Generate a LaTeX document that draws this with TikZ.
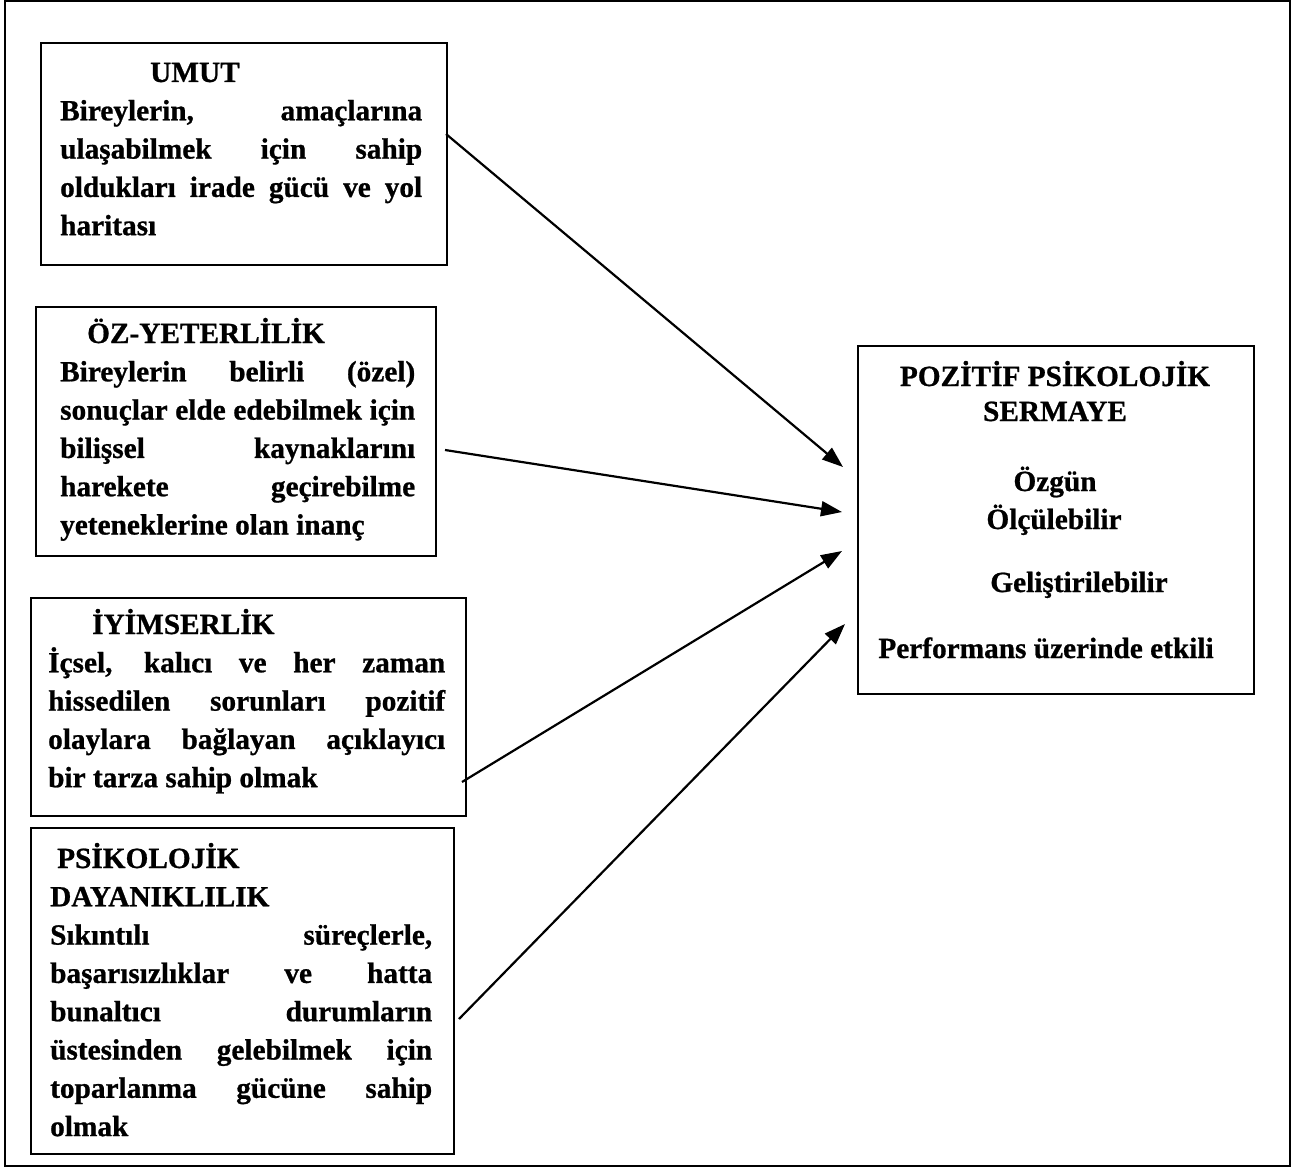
\documentclass[tikz,border=0pt]{standalone}
\usepackage{fontspec}
\setmainfont{Liberation Serif}[BoldFeatures={FakeBold=0.8}]
\usetikzlibrary{arrows.meta}
\newcommand\boxfont{\fontsize{29.3pt}{38.3pt}\selectfont\bfseries}
\begin{document}
\begin{tikzpicture}[x=1pt,y=-1pt,
  frame/.style={draw, line width=1.6pt},
  box/.style={draw, line width=2pt, inner sep=0pt, anchor=north west},
  txt/.style={inner sep=0pt, anchor=base west, font=\boxfont},
  rtxt/.style={inner sep=0pt, anchor=base, font=\boxfont},
  link/.style={-{Triangle[length=21pt,width=15pt]}, line width=2.2pt}]
\useasboundingbox (0,0) rectangle (1303,1169);
\draw[frame] (5,1) rectangle (1290,1166);

% boxes
\node[box, minimum width=406pt, minimum height=222pt] (b1) at (40,42) {};
\node[box, minimum width=400pt, minimum height=249pt] (b2) at (35,306) {};
\node[box, minimum width=435pt, minimum height=218pt] (b3) at (30,597) {};
\node[box, minimum width=423pt, minimum height=326pt] (b4) at (30,827) {};
\node[box, minimum width=396pt, minimum height=348pt] (r) at (857,345) {};

% texts of the left boxes
\node[txt] (t1) at (60,82) {\parbox[t]{362pt}{\sloppy
  \hspace*{90pt}UMUT\par
  Bireylerin, amaçlarına\linebreak
  ulaşabilmek için sahip\linebreak
  oldukları irade gücü ve yol\linebreak
  haritası}};
\node[txt] (t2) at (60,343) {\parbox[t]{355pt}{\sloppy
  \hspace*{27pt}ÖZ-YETERLİLİK\par
  Bireylerin belirli (özel)\linebreak
  sonuçlar elde edebilmek için\linebreak
  bilişsel kaynaklarını\linebreak
  harekete geçirebilme\linebreak
  yeteneklerine olan inanç}};
\node[txt] (t3) at (48,634) {\parbox[t]{397pt}{\sloppy
  \hspace*{44pt}İYİMSERLİK\par
  İçsel, kalıcı ve her zaman\linebreak
  hissedilen sorunları pozitif\linebreak
  olaylara bağlayan açıklayıcı\linebreak
  bir tarza sahip olmak}};
\node[txt] (t4) at (50,868) {\parbox[t]{382pt}{\sloppy
  \hspace*{7pt}PSİKOLOJİK\par
  DAYANIKLILIK\par
  Sıkıntılı süreçlerle,\linebreak
  başarısızlıklar ve hatta\linebreak
  bunaltıcı durumların\linebreak
  üstesinden gelebilmek için\linebreak
  toparlanma gücüne sahip\linebreak
  olmak}};

% texts of the right box
\node[rtxt] (r1) at (1055,386) {POZİTİF PSİKOLOJİK};
\node[rtxt] (r2) at (1055,421) {SERMAYE};
\node[rtxt] (r3) at (1055,491) {Özgün};
\node[rtxt] (r4) at (1054,529) {Ölçülebilir};
\node[rtxt] (r5) at (1079,592) {Geliştirilebilir};
\node[rtxt] (r6) at (1046,658) {Performans üzerinde etkili};

% connectors
\draw[link] ([shift={(-2,92)}]b1.north east) -- ([shift={(-14,122)}]r.north west);
\draw[link] ([shift={(8,144)}]b2.north east) -- ([shift={(-15,167)}]r.north west);
\draw[link] ([shift={(-5,185)}]b3.north east) -- ([shift={(-15,206)}]r.north west);
\draw[link] ([shift={(4,192)}]b4.north east) -- ([shift={(-12,279)}]r.north west);
\end{tikzpicture}
\end{document}
